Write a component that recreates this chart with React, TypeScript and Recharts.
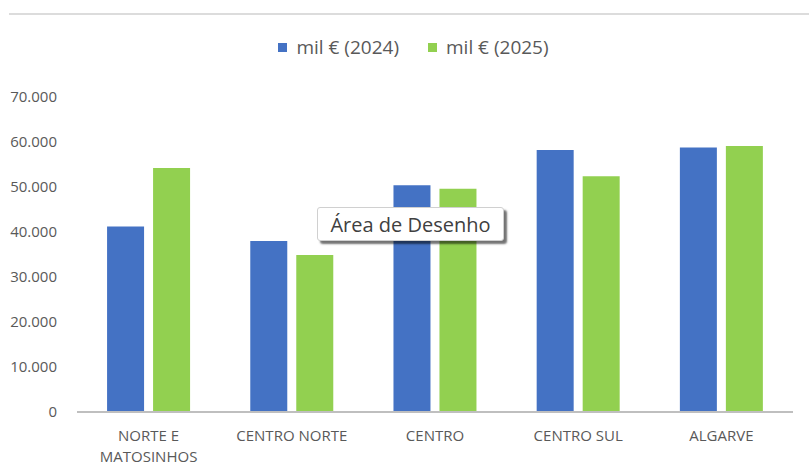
import React from 'react'
import { BarChart, Bar, XAxis, YAxis, Legend } from 'recharts'

const categories = ['NORTE E\nMATOSINHOS', 'CENTRO NORTE', 'CENTRO', 'CENTRO SUL', 'ALGARVE']
const values2024 = [41200, 38000, 50400, 58200, 58800]
const values2025 = [54200, 34900, 49600, 52400, 59100]
const yTicks = [0, 10000, 20000, 30000, 40000, 50000, 60000, 70000]
const seriesNames = ['mil € (2024)', 'mil € (2025)']

const data = categories.map((name, i) => ({
  name,
  v2024: values2024[i],
  v2025: values2025[i],
}))

const FONT = '"Open Sans", sans-serif'
const TEXT = '#595959'

function formatThousands(v: number) {
  return v === 0 ? '0' : v.toLocaleString('de-DE')
}

function CategoryTick({ x, y, payload }: any) {
  const lines = String(payload.value).split('\n')
  return (
    <text x={x} y={y + 21} textAnchor="middle" fill={TEXT} fontSize={15} fontFamily={FONT}>
      {lines.map((line, i) => (
        <tspan key={i} x={x} dy={i === 0 ? 0 : 21}>{line}</tspan>
      ))}
    </text>
  )
}

function LegendContent({ payload }: any) {
  return (
    <div style={{ height: 61, display: 'flex', justifyContent: 'center', paddingLeft: 34, fontFamily: FONT, fontSize: 19, color: TEXT }}>
      {(payload || []).map((item: any, i: number) => (
        <div key={i} style={{ display: 'flex', alignItems: 'center', height: 22, marginLeft: i === 0 ? 0 : 29 }}>
          <span style={{ width: 9, height: 9, background: item.color, marginRight: 9, display: 'inline-block' }} />
          <span>{item.value}</span>
        </div>
      ))}
    </div>
  )
}

export default function App() {
  return (
    <div style={{ position: 'relative', width: 809, height: 466, background: '#fff' }}>
      <style>{'body{margin:0}'}</style>
      <div style={{ position: 'absolute', top: 13, left: 9, right: 0, height: 2, background: '#dcdcdc' }} />
      <BarChart
        width={809}
        height={466}
        data={data}
        margin={{ top: 36, right: 16, bottom: 0, left: 0 }}
        barGap={9}
        barCategoryGap="21%"
      >
        <Legend verticalAlign="top" content={<LegendContent />} />
        <XAxis
          dataKey="name"
          height={54}
          interval={0}
          tickLine={false}
          axisLine={{ stroke: '#bfbfbf', strokeWidth: 2 }}
          tick={<CategoryTick />}
        />
        <YAxis
          width={77}
          domain={[0, 70000]}
          ticks={yTicks}
          tickFormatter={formatThousands}
          axisLine={false}
          tickLine={false}
          tickMargin={14}
          tick={{ fill: TEXT, fontSize: 15, fontFamily: FONT }}
        />
        <Bar dataKey="v2024" name={seriesNames[0]} fill="#4472C4" isAnimationActive={false} />
        <Bar dataKey="v2025" name={seriesNames[1]} fill="#92D050" isAnimationActive={false} />
      </BarChart>
      <div
        style={{
          position: 'absolute',
          left: 317,
          top: 207,
          width: 187,
          height: 34,
          background: '#fff',
          border: '1px solid #d0d0d0',
          borderRadius: 3,
          boxShadow: '3px 3px 2px rgba(0,0,0,0.55)',
          fontFamily: FONT,
          fontSize: 20,
          color: '#404040',
          display: 'flex',
          alignItems: 'center',
          justifyContent: 'center',
          boxSizing: 'border-box',
        }}
      >
        Área de Desenho
      </div>
    </div>
  )
}
